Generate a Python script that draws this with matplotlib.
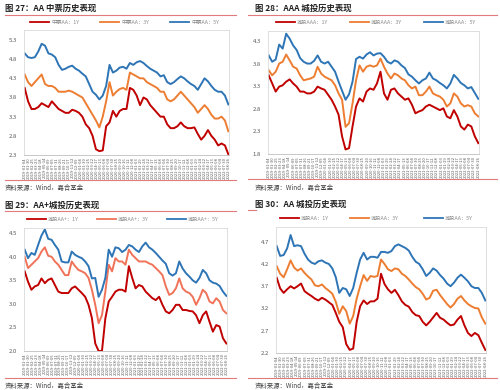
import matplotlib
matplotlib.use('Agg')
import matplotlib.pyplot as plt
from matplotlib.lines import Line2D
import numpy as np
import pandas as pd

plt.rcParams['font.family'] = ['Noto Sans CJK SC', 'DejaVu Sans']

W, H = 500, 390  # tamano de la figura en pixeles

# Fechas de las etiquetas del eje x
fechas = pd.date_range('2019-01-04', '2022-08-26', periods=52).strftime('%Y-%m-%d')

# Fig 27: AA medium term notes
mtn_aa_1y = [4.05, 3.70, 3.50, 3.50, 3.55, 3.65, 3.60, 3.55, 3.70, 3.60,
             3.50, 3.45, 3.40, 3.40, 3.48, 3.45, 3.40, 3.30, 3.10, 3.00,
             2.80, 2.45, 2.40, 2.42, 3.05, 3.15, 3.45, 3.30, 3.45, 3.50,
             3.50, 4.05, 4.00, 3.85, 3.60, 3.80, 3.75, 3.60, 3.50, 3.40,
             3.30, 3.30, 3.10, 3.00, 3.00, 3.05, 3.15, 3.05, 3.00, 3.00,
             3.02, 2.85, 2.70, 2.80, 2.95, 2.80, 2.70, 2.55, 2.60, 2.55,
             2.32]
mtn_aa_3y = [4.40, 4.20, 4.10, 4.20, 4.30, 4.40, 4.15, 4.10, 4.10, 4.05,
             3.95, 3.95, 3.95, 3.98, 3.95, 3.90, 3.85, 3.80, 3.65, 3.50,
             3.35, 3.20, 3.02, 3.30, 3.70, 4.20, 3.85, 3.95, 4.02, 4.05,
             4.00, 4.45, 4.40, 4.35, 4.30, 4.30, 4.20, 4.15, 4.10, 4.05,
             3.95, 3.95, 3.75, 3.70, 3.75, 3.85, 3.95, 3.85, 3.75, 3.65,
             3.55, 3.40, 3.50, 3.60, 3.50, 3.35, 3.25, 3.25, 3.30, 3.20,
             2.92]
mtn_aa_5y = [4.95, 4.85, 4.83, 4.85, 5.00, 5.20, 5.15, 4.95, 4.92, 4.85,
             4.65, 4.52, 4.55, 4.60, 4.63, 4.55, 4.50, 4.42, 4.35, 4.15,
             3.95, 3.87, 3.75, 3.85, 4.10, 4.65, 4.45, 4.50, 4.58, 4.60,
             4.55, 4.70, 4.65, 4.72, 4.75, 4.70, 4.62, 4.55, 4.50, 4.45,
             4.35, 4.38, 4.20, 4.15, 4.20, 4.28, 4.35, 4.30, 4.22, 4.15,
             4.10, 4.00, 4.15, 4.30, 4.22, 4.10, 4.00, 3.95, 3.95, 3.85,
             3.62]

# Fig 28: AAA chengtou
ct_aaa_1y = [3.54, 3.36, 3.18, 3.29, 3.32, 3.40, 3.45, 3.36, 3.29, 3.18,
             3.18, 3.14, 3.14, 3.18, 3.29, 3.25, 3.22, 3.11, 3.00, 2.85,
             2.67, 2.19, 1.90, 1.93, 2.41, 2.85, 3.03, 2.96, 3.18, 3.25,
             3.22, 3.36, 3.62, 3.14, 3.00, 3.22, 3.25, 3.14, 3.07, 3.00,
             3.03, 2.89, 2.70, 2.74, 2.77, 2.85, 2.89, 2.85, 2.81, 2.77,
             2.81, 2.63, 2.59, 2.77, 2.63, 2.41, 2.34, 2.45, 2.41, 2.19,
             2.04]
ct_aaa_3y = [3.65, 3.54, 3.62, 3.80, 3.84, 4.00, 3.87, 3.73, 3.69, 3.54,
             3.43, 3.45, 3.47, 3.51, 3.73, 3.58, 3.51, 3.47, 3.43, 3.32,
             3.14, 3.00, 2.40, 2.48, 2.92, 3.43, 3.76, 3.62, 3.73, 3.76,
             3.73, 3.76, 3.91, 3.73, 3.58, 3.47, 3.58, 3.54, 3.47, 3.43,
             3.32, 3.25, 3.29, 3.10, 3.10, 3.18, 3.29, 3.14, 3.10, 3.07,
             3.00, 2.85, 2.92, 3.14, 3.07, 2.92, 2.85, 2.88, 2.85, 2.70,
             2.63]
ct_aaa_5y = [3.98, 3.84, 3.89, 4.22, 4.13, 4.46, 4.35, 4.20, 4.10, 3.92,
             3.84, 3.80, 3.80, 3.86, 3.98, 3.84, 3.80, 3.84, 3.73, 3.62,
             3.40, 3.20, 3.00, 3.12, 3.40, 3.90, 3.95, 3.91, 4.00, 4.05,
             3.98, 4.02, 4.03, 3.95, 3.84, 3.80, 3.87, 3.84, 3.76, 3.70,
             3.56, 3.51, 3.43, 3.36, 3.43, 3.47, 3.60, 3.47, 3.43, 3.37,
             3.32, 3.25, 3.36, 3.55, 3.47, 3.37, 3.32, 3.25, 3.28, 3.15,
             3.02]

# Fig 29: AA+ chengtou
ct_aap_1y = [3.69, 3.47, 3.30, 3.37, 3.40, 3.54, 3.44, 3.51, 3.54, 3.40,
             3.26, 3.23, 3.23, 3.23, 3.33, 3.37, 3.30, 3.23, 3.15, 2.98,
             2.70, 2.16, 2.00, 2.00, 2.69, 3.05, 3.15, 3.26, 3.30, 3.30,
             3.26, 3.80, 3.55, 3.33, 3.40, 3.37, 3.26, 3.19, 3.12, 3.08,
             3.15, 2.98, 2.84, 2.80, 2.87, 2.98, 2.98, 2.87, 2.87, 2.85,
             2.84, 2.76, 2.59, 2.76, 2.84, 2.62, 2.41, 2.55, 2.52, 2.27,
             2.16]
ct_aap_3y = [4.00, 3.76, 3.83, 3.90, 3.97, 4.11, 4.20, 4.02, 4.00, 3.90,
             3.83, 3.72, 3.61, 3.61, 3.90, 3.80, 3.72, 3.69, 3.65, 3.55,
             3.30, 2.98, 2.59, 2.76, 3.26, 3.83, 3.69, 3.97, 3.90, 3.90,
             3.83, 4.15, 4.04, 3.97, 3.90, 3.90, 3.90, 3.86, 3.83, 3.76,
             3.69, 3.61, 3.37, 3.19, 3.23, 3.33, 3.54, 3.33, 3.26, 3.23,
             3.15, 2.98, 3.12, 3.30, 3.23, 3.05, 3.01, 3.12, 3.05, 2.87,
             2.80]
ct_aap_5y = [4.15, 3.97, 4.08, 4.04, 4.25, 4.45, 4.58, 4.38, 4.36, 4.25,
             4.15, 3.90, 3.88, 3.88, 4.11, 4.04, 4.00, 3.97, 3.90, 3.80,
             3.54, 3.55, 3.15, 3.30, 3.55, 4.15, 4.00, 4.20, 4.18, 4.10,
             4.15, 4.25, 4.22, 4.15, 4.10, 4.22, 4.30, 4.20, 4.15, 4.08,
             4.00, 3.92, 3.85, 3.65, 3.60, 3.65, 3.90, 3.75, 3.65, 3.58,
             3.50, 3.45, 3.55, 3.72, 3.65, 3.50, 3.45, 3.43, 3.38, 3.26,
             3.17]

# Fig 30: AA chengtou
ct_aa_1y = [3.89, 3.65, 3.55, 3.63, 3.70, 3.65, 3.70, 3.76, 3.59, 3.53,
            3.48, 3.42, 3.38, 3.44, 3.40, 3.34, 3.28, 3.10, 2.90, 2.78,
            2.40, 2.27, 2.30, 2.90, 3.25, 3.38, 3.30, 3.36, 3.36, 3.42,
            3.98, 3.75, 3.63, 3.55, 3.62, 3.50, 3.36, 3.28, 3.24, 3.12,
            3.05, 3.03, 2.90, 2.82, 2.90, 3.00, 3.10, 2.99, 2.95, 2.88,
            2.82, 2.84, 2.95, 3.03, 2.82, 2.65, 2.58, 2.65, 2.60, 2.43,
            2.27]
ct_aa_3y = [4.15, 3.98, 3.90, 4.08, 4.28, 4.12, 4.05, 4.10, 4.00, 3.92,
            3.85, 3.72, 3.70, 3.74, 3.66, 3.60, 3.53, 3.35, 3.08, 3.25,
            3.14, 2.86, 3.03, 3.42, 3.70, 3.95, 3.82, 3.93, 3.91, 3.93,
            4.30, 4.20, 4.08, 4.04, 4.10, 4.08, 3.98, 3.93, 3.85, 3.76,
            3.68, 3.63, 3.53, 3.40, 3.44, 3.60, 3.62, 3.50, 3.40, 3.30,
            3.22, 3.30, 3.42, 3.48, 3.38, 3.30, 3.25, 3.21, 3.20, 3.00,
            2.86]
ct_aa_5y = [4.60, 4.38, 4.40, 4.55, 4.85, 4.60, 4.62, 4.60, 4.43, 4.30,
            4.23, 4.20, 4.26, 4.28, 4.23, 4.20, 4.10, 3.90, 3.55, 3.66,
            3.63, 3.48, 3.66, 4.00, 4.30, 4.45, 4.30, 4.36, 4.36, 4.34,
            4.47, 4.47, 4.45, 4.49, 4.60, 4.64, 4.60, 4.56, 4.50, 4.36,
            4.25, 4.20, 4.08, 3.93, 4.00, 4.10, 4.05, 3.95, 3.87, 3.76,
            3.70, 3.78, 3.89, 3.96, 3.89, 3.81, 3.70, 3.66, 3.66, 3.55,
            3.38]

ROJO = '#C00000'
NARANJA = '#ED7D31'
SALMON = '#F07359'
AZUL = '#2E75B6'
LINEA_ROJA = '#E07B7B'
GRIS = '#595959'

paneles = [
    dict(titulo='图 27：AA 中票历史表现', nombres=['中票AA：1Y', '中票AA：3Y', '中票AA：5Y'],
         series=[mtn_aa_1y, mtn_aa_3y, mtn_aa_5y], colores=[ROJO, NARANJA, AZUL],
         caja=(24, 30, 229, 155), ylim=(2.3, 5.56), yticks=[2.3, 2.8, 3.3, 3.8, 4.3, 4.8, 5.3],
         tit_xy=(5, 8), tit_linea=(5, 236, 15), ley_y=22, ley_x=[30, 100, 170],
         pie_linea=(5, 236, 180), pie_xy=(5, 188)),
    dict(titulo='图 28：AAA 城投历史表现', nombres=['城投AAA：1Y', '城投AAA：3Y', '城投AAA：5Y'],
         series=[ct_aaa_1y, ct_aaa_3y, ct_aaa_5y], colores=[ROJO, NARANJA, AZUL],
         caja=(268, 31, 479, 154), ylim=(1.8, 4.52), yticks=[1.8, 2.3, 2.8, 3.3, 3.8, 4.3],
         tit_xy=(255, 8), tit_linea=(248, 497, 15), ley_y=22, ley_x=[276, 350, 424],
         pie_linea=(248, 497, 179), pie_xy=(255, 188)),
    dict(titulo='图 29：AA+城投历史表现', nombres=['城投AA+：1Y', '城投AA+：3Y', '城投AA+：5Y'],
         series=[ct_aap_1y, ct_aap_3y, ct_aap_5y], colores=[ROJO, SALMON, AZUL],
         caja=(24, 228, 227, 351), ylim=(2.0, 4.61), yticks=[2.0, 2.5, 3.0, 3.5, 4.0, 4.5],
         tit_xy=(5, 205), tit_linea=(5, 236, 211), ley_y=219, ley_x=[27, 97, 167],
         pie_linea=(5, 236, 378), pie_xy=(5, 386)),
    dict(titulo='图 30：AA 城投历史表现', nombres=['城投AA：1Y', '城投AA：3Y', '城投AA：5Y'],
         series=[ct_aa_1y, ct_aa_3y, ct_aa_5y], colores=[ROJO, NARANJA, AZUL],
         caja=(276, 227, 486, 353), ylim=(2.2, 5.03), yticks=[2.2, 2.7, 3.2, 3.7, 4.2, 4.7],
         tit_xy=(255, 204), tit_linea=(248, 256, 210), ley_y=218, ley_x=[280, 350, 424],
         pie_linea=(248, 497, 378), pie_xy=(255, 386)),
]


def fx(x):
    return x / W


def fy(y):
    return 1 - y / H


def Panel(fig, p):
    """
    Dibuja un panel completo: titulo, leyenda, grafico y fuente
    """
    x0, y0, x1, y1 = p['caja']
    ax = fig.add_axes([fx(x0), fy(y1), (x1 - x0) / W, (y1 - y0) / H])
    n = len(p['series'][0])
    x = np.arange(n)
    for s, c in zip(p['series'], p['colores']):
        ax.plot(x, s, color=c, lw=1.4, solid_joinstyle='round')
    ax.set_xlim(-0.2, n - 0.8)
    ax.set_ylim(*p['ylim'])
    ax.set_yticks(p['yticks'])
    ax.set_yticklabels([f'{v:.1f}' for v in p['yticks']])
    ax.set_xticks(np.linspace(0, n - 1, len(fechas)))
    ax.set_xticklabels(fechas, rotation=90)
    ax.tick_params(axis='x', length=0, pad=1.5, labelsize=3.0, labelcolor=GRIS)
    ax.tick_params(axis='y', length=0, pad=5, labelsize=4.3, labelcolor=GRIS)
    for lado in ax.spines.values():
        lado.set_color('#D9D9D9')
        lado.set_linewidth(0.6)
    ax.spines['bottom'].set_color('#BFBFBF')

    # titulo y lineas rojas
    fig.text(fx(p['tit_xy'][0]), fy(p['tit_xy'][1]), p['titulo'], fontsize=6,
             fontweight='bold', ha='left', va='center', color='#222222')
    a, b, yy = p['tit_linea']
    fig.add_artist(Line2D([fx(a), fx(b)], [fy(yy), fy(yy)], color=LINEA_ROJA, lw=0.8))
    a, b, yy = p['pie_linea']
    fig.add_artist(Line2D([fx(a), fx(b)], [fy(yy), fy(yy)], color=LINEA_ROJA, lw=0.8))
    fig.text(fx(p['pie_xy'][0]), fy(p['pie_xy'][1]), '资料来源：Wind，嘉合基金', fontsize=4.6,
             ha='left', va='center', color='#404040')

    # leyenda manual
    for xl, nom, c in zip(p['ley_x'], p['nombres'], p['colores']):
        fig.add_artist(Line2D([fx(xl), fx(xl + 19)], [fy(p['ley_y'])] * 2, color=c, lw=1.3))
        fig.text(fx(xl + 21), fy(p['ley_y']), nom, fontsize=3.8, ha='left', va='center',
                 color='#8C8C8C')


fig = plt.figure(figsize=(W / 100, H / 100), dpi=100)
fig.patch.set_facecolor('white')
for p in paneles:
    Panel(fig, p)
fig.savefig('out.png', dpi=100, facecolor='white')
